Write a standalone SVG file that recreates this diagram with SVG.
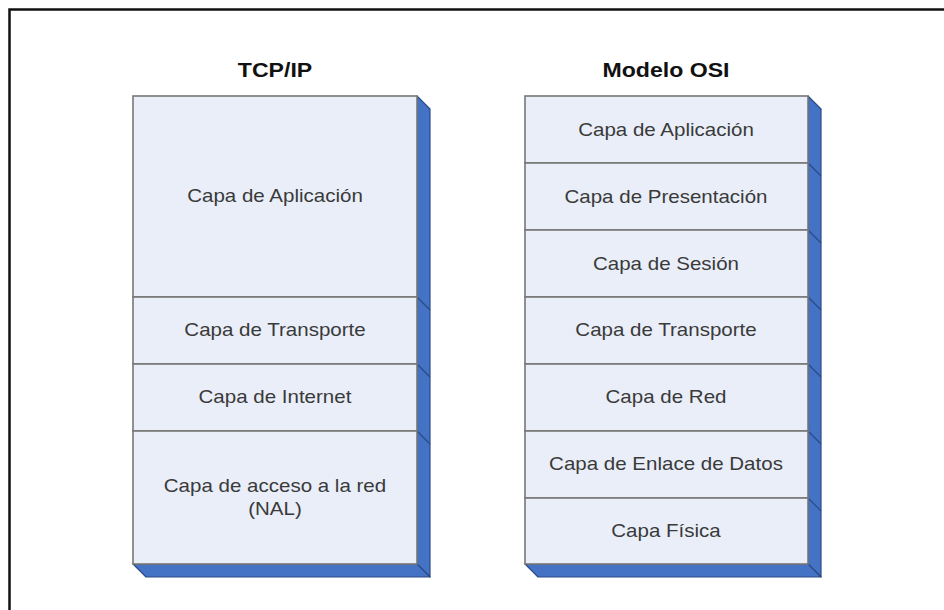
<svg xmlns="http://www.w3.org/2000/svg" width="944" height="610" viewBox="0 0 944 610">
<style>
.bg{fill:#ffffff}
.frame{fill:none;stroke:#111;stroke-width:2.5}
.layer{fill:#e9eef8;stroke:#777;stroke-width:1.6}
.side{fill:#4472c4;stroke:#2a4b86;stroke-width:1.2;stroke-linejoin:round}
.edge{stroke:#2a4b86;stroke-width:1.2}
.title{font-family:"Liberation Sans",Arial,sans-serif;font-weight:bold;font-size:21px;fill:#111;text-anchor:middle;transform-box:fill-box;transform-origin:center;transform:scaleX(1.1)}
.lbl{font-family:"Liberation Sans",Arial,sans-serif;font-size:18px;fill:#3a3a3a;text-anchor:middle;transform-box:fill-box;transform-origin:center;transform:scaleX(1.14)}
</style>
<rect class="bg" x="0" y="0" width="944" height="610"/>
<path class="frame" d="M9.5 610 V9.5 H944"/>

<g id="tcpip">
  <text class="title" x="275" y="77">TCP/IP</text>
  <polygon class="side" points="417,96 430,109 430,577 417,564"/>
  <polygon class="side" points="133,564 417,564 430,577 146,577"/>
  <line class="edge" x1="417" y1="297" x2="430" y2="310"/>
  <line class="edge" x1="417" y1="364" x2="430" y2="377"/>
  <line class="edge" x1="417" y1="431" x2="430" y2="444"/>
  <g id="tcp-aplicacion"><rect class="layer" x="133" y="96" width="284" height="201"/><text class="lbl" x="275" y="202">Capa de Aplicación</text></g>
  <g id="tcp-transporte"><rect class="layer" x="133" y="297" width="284" height="67"/><text class="lbl" x="275" y="336">Capa de Transporte</text></g>
  <g id="tcp-internet"><rect class="layer" x="133" y="364" width="284" height="67"/><text class="lbl" x="275" y="403">Capa de Internet</text></g>
  <g id="tcp-acceso"><rect class="layer" x="133" y="431" width="284" height="133"/><text class="lbl" x="275" y="492">Capa de acceso a la red</text><text class="lbl" x="275" y="515">(NAL)</text></g>
</g>

<g id="osi">
  <text class="title" x="666" y="77">Modelo OSI</text>
  <polygon class="side" points="808,96 821,109 821,577 808,564"/>
  <polygon class="side" points="525,564 808,564 821,577 538,577"/>
  <line class="edge" x1="808" y1="163" x2="821" y2="176"/>
  <line class="edge" x1="808" y1="230" x2="821" y2="243"/>
  <line class="edge" x1="808" y1="297" x2="821" y2="310"/>
  <line class="edge" x1="808" y1="364" x2="821" y2="377"/>
  <line class="edge" x1="808" y1="431" x2="821" y2="444"/>
  <line class="edge" x1="808" y1="498" x2="821" y2="511"/>
  <g id="osi-aplicacion"><rect class="layer" x="525" y="96" width="283" height="67"/><text class="lbl" x="666" y="136">Capa de Aplicación</text></g>
  <g id="osi-presentacion"><rect class="layer" x="525" y="163" width="283" height="67"/><text class="lbl" x="666" y="203">Capa de Presentación</text></g>
  <g id="osi-sesion"><rect class="layer" x="525" y="230" width="283" height="67"/><text class="lbl" x="666" y="270">Capa de Sesión</text></g>
  <g id="osi-transporte"><rect class="layer" x="525" y="297" width="283" height="67"/><text class="lbl" x="666" y="336">Capa de Transporte</text></g>
  <g id="osi-red"><rect class="layer" x="525" y="364" width="283" height="67"/><text class="lbl" x="666" y="403">Capa de Red</text></g>
  <g id="osi-enlace"><rect class="layer" x="525" y="431" width="283" height="67"/><text class="lbl" x="666" y="470">Capa de Enlace de Datos</text></g>
  <g id="osi-fisica"><rect class="layer" x="525" y="498" width="283" height="66"/><text class="lbl" x="666" y="537">Capa Física</text></g>
</g>

<g id="connectors"></g>
</svg>
